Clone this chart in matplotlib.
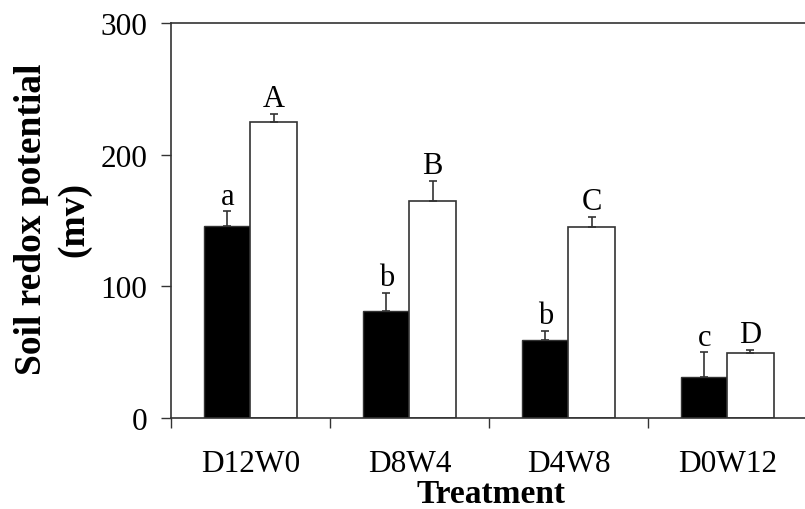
import numpy as np
import matplotlib.pyplot as plt

treatments = ['D12W0', 'D8W4', 'D4W8', 'D0W12']
dark_vals = [146, 81, 59, 31]
dark_err = [11, 14, 7, 19]
light_vals = [225, 165, 145, 49]
light_err = [6, 15, 8, 3]
dark_letters = ['a', 'b', 'b', 'c']
light_letters = ['A', 'B', 'C', 'D']

plt.rcParams['font.family'] = ['Liberation Serif', 'DejaVu Serif']

fig = plt.figure(figsize=(8.05, 5.1), dpi=100)
ax = fig.add_axes([0.2124, 0.1784, 0.79, 0.7746])

x = np.arange(len(treatments))
w = 0.29
edge = '#333333'

ax.bar(x - w / 2, dark_vals, w, color='black', edgecolor=edge, linewidth=1)
ax.bar(x + w / 2, light_vals, w, color='white', edgecolor=edge, linewidth=1.2)

zeros = np.zeros(len(x))
ax.errorbar(x - w / 2, dark_vals, yerr=[zeros, dark_err], fmt='none',
            ecolor=edge, elinewidth=1.2, capsize=3, capthick=1.2)
ax.errorbar(x + w / 2, light_vals, yerr=[zeros, light_err], fmt='none',
            ecolor=edge, elinewidth=1.2, capsize=3, capthick=1.2)

for i in range(len(x)):
    ax.text(x[i] - w / 2, dark_vals[i] + dark_err[i] + 0.5, dark_letters[i],
            ha='center', va='bottom', fontsize=22)
    ax.text(x[i] + w / 2, light_vals[i] + light_err[i] + 0.5, light_letters[i],
            ha='center', va='bottom', fontsize=22)

ax.set_xlim(-0.5, 3.5)
ax.set_ylim(0, 300)
ax.set_yticks([0, 100, 200, 300])
ax.set_xticks(x)
ax.set_xticklabels(treatments)
ax.set_xticks(np.arange(-0.5, 4.0, 1.0), minor=True)

ax.tick_params(axis='y', direction='out', length=7, width=1, labelsize=22.5,
               pad=10, color=edge)
ax.tick_params(axis='x', which='major', length=0, labelsize=22.5, pad=22)
ax.tick_params(axis='x', which='minor', direction='out', length=7, width=1,
               color=edge)

for s in ['left', 'bottom', 'top']:
    ax.spines[s].set_color(edge)
    ax.spines[s].set_linewidth(1.2)
ax.spines['right'].set_visible(False)

fig.text(52.5 / 805, 0.569, 'Soil redox potential\n(mv)', rotation=90,
         ha='center', va='center', fontsize=27, fontweight='bold',
         linespacing=1.25)
fig.text(491 / 805, 7 / 510, 'Treatment', ha='center', va='baseline',
         fontsize=24, fontweight='bold')

fig.savefig('out.png', dpi=100)
